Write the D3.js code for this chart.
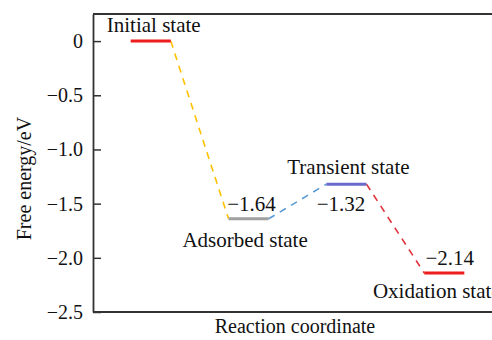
<!DOCTYPE html>
<html>
<head>
<meta charset="utf-8">
<script src="https://cdn.jsdelivr.net/npm/d3@7"></script>
<style>
  html, body { margin: 0; padding: 0; background: #fff; }
  svg { display: block; }
  svg text { font-family: "Liberation Serif", "Times New Roman", serif; }
</style>
</head>
<body>
<div id="chart"></div>
<script>
// Data
const states = ["Initial state", "Adsorbed state", "Transient state", "Oxidation state"];
const energies = [0, -1.64, -1.32, -2.14];
const levelColors = ["#ee1c1c", "#a0a0a0", "#6a6acb", "#ee1c1c"];
const linkColors = ["#ffc000", "#5b9bd5", "#e0343c"];
const yTicks = [0, -0.5, -1.0, -1.5, -2.0, -2.5];
const valueLabels = ["", "\u22121.64", "\u22121.32", "\u22122.14"];

const width = 492, height = 340;
const margin = { top: 14, right: -10, bottom: 28, left: 93 };

const svg = d3.select("#chart").append("svg")
  .attr("width", width)
  .attr("height", height);

const x = d3.scaleLinear()
  .domain([0.41, 4.59])
  .range([margin.left, width - margin.right]);
const y = d3.scaleLinear()
  .domain([-2.5, 0.25])
  .range([height - margin.bottom, margin.top]);

const halfW = 0.205;

// axes frame (plot runs past the right edge)
svg.append("line")
  .attr("x1", margin.left).attr("x2", width + 20)
  .attr("y1", y(0.25)).attr("y2", y(0.25))
  .attr("stroke", "#333").attr("stroke-width", 1.8);
svg.append("line")
  .attr("x1", margin.left).attr("x2", width + 20)
  .attr("y1", y(-2.5)).attr("y2", y(-2.5))
  .attr("stroke", "#333").attr("stroke-width", 1.8);

const yAxis = svg.append("g")
  .attr("transform", `translate(${margin.left},0)`)
  .call(d3.axisLeft(y)
    .tickValues(yTicks)
    .tickSizeInner(-8)
    .tickSizeOuter(0)
    .tickPadding(10)
    .tickFormat(d => d === 0 ? "0" : d3.format(".1f")(d).replace("-", "\u2212")));
yAxis.attr("font-family", null).attr("font-size", null);
yAxis.select(".domain").attr("stroke", "#333").attr("stroke-width", 1.8);
yAxis.selectAll(".tick line").attr("stroke", "#333").attr("stroke-width", 1.5);
yAxis.selectAll(".tick text")
  .attr("x", -10)
  .attr("fill", "#111")
  .style("font-size", "20px");

// connecting dashed lines
const links = d3.range(states.length - 1).map(i => ({
  x1: i + 1 + halfW, y1: energies[i],
  x2: i + 2 - halfW, y2: energies[i + 1],
  color: linkColors[i]
}));
svg.append("g").selectAll("line")
  .data(links)
  .join("line")
  .attr("x1", d => x(d.x1)).attr("y1", d => y(d.y1))
  .attr("x2", d => x(d.x2)).attr("y2", d => y(d.y2))
  .attr("stroke", d => d.color)
  .attr("stroke-width", 1.6)
  .attr("stroke-dasharray", "7,6");

// energy levels
svg.append("g").selectAll("line")
  .data(energies)
  .join("line")
  .attr("x1", (d, i) => x(i + 1 - halfW))
  .attr("x2", (d, i) => x(i + 1 + halfW))
  .attr("y1", d => y(d)).attr("y2", d => y(d))
  .attr("stroke", (d, i) => levelColors[i])
  .attr("stroke-width", 3);

// state names
const nameOffsets = [
  { dx: 3, dy: -9 },
  { dx: -3.5, dy: 28 },
  { dx: 2, dy: -10 },
  { dx: -7.5, dy: 25 }
];
svg.append("g").selectAll("text")
  .data(states)
  .join("text")
  .attr("x", (d, i) => x(i + 1) + nameOffsets[i].dx)
  .attr("y", (d, i) => y(energies[i]) + nameOffsets[i].dy)
  .attr("text-anchor", "middle")
  .attr("fill", "#111")
  .style("font-size", "21px")
  .text(d => d);

// value labels
const valueOffsets = [0, 3, -5.5, 5.5];
svg.append("g").selectAll("text")
  .data(valueLabels)
  .join("text")
  .attr("x", (d, i) => x(i + 1) + valueOffsets[i])
  .attr("y", (d, i) => i === 2 ? y(energies[i]) + 27 : y(energies[i]) - 8)
  .attr("text-anchor", "middle")
  .attr("fill", "#111")
  .style("font-size", "21px")
  .text(d => d);

// axis titles
svg.append("text")
  .attr("x", 295)
  .attr("y", 333)
  .attr("text-anchor", "middle")
  .attr("fill", "#111")
  .style("font-size", "20px")
  .text("Reaction coordinate");
svg.append("text")
  .attr("transform", `translate(31,${y(-1.25) + 2}) rotate(-90)`)
  .attr("text-anchor", "middle")
  .attr("fill", "#111")
  .style("font-size", "20px")
  .text("Free energy/eV");
</script>
</body>
</html>
